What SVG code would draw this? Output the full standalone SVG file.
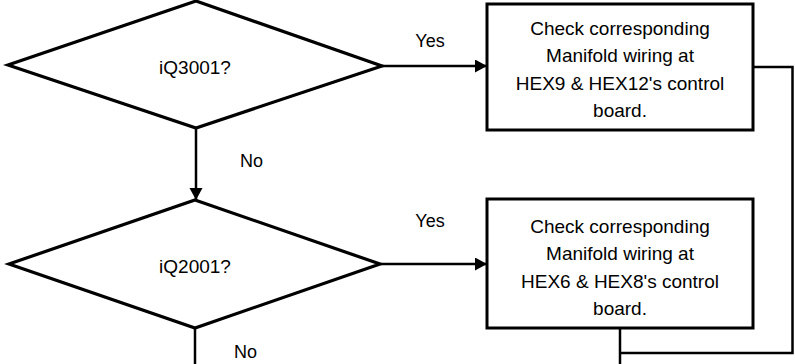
<svg xmlns="http://www.w3.org/2000/svg" width="795" height="364" viewBox="0 0 795 364">
<style>
.shape{fill:#fff;stroke:#000;stroke-width:3.2;stroke-linejoin:miter}
.box{fill:#fff;stroke:#000;stroke-width:3}
.conn{fill:none;stroke:#000;stroke-width:2.5}
text{font-family:"Liberation Sans",Arial,sans-serif;font-size:19px;fill:#000;text-anchor:middle}
.lbl{font-size:18px}
</style>
<defs>
<marker id="arr" markerUnits="userSpaceOnUse" markerWidth="14" markerHeight="14" refX="12" refY="6.5" orient="auto">
<path d="M0,0 L12,6.5 L0,13 Z" fill="#000"/>
</marker>
</defs>
<g id="connectors">
<line class="conn" x1="196" y1="128" x2="196" y2="200" marker-end="url(#arr)"/>
<line class="conn" x1="382" y1="66" x2="487" y2="66" marker-end="url(#arr)"/>
<line class="conn" x1="380" y1="264" x2="487" y2="264" marker-end="url(#arr)"/>
<line class="conn" x1="195" y1="328" x2="195" y2="364"/>
<polyline class="conn" points="753,67 792.5,67 792.5,353 620,353"/>
<line class="conn" x1="620" y1="328" x2="620" y2="364"/>
<text class="lbl" x="430" y="47">Yes</text>
<text class="lbl" x="251.5" y="167">No</text>
<text class="lbl" x="430" y="227">Yes</text>
<text class="lbl" x="245.5" y="358">No</text>
</g>
<g id="d1">
<polygon class="shape" points="196,1 382,66 196,128 8,65"/>
<text x="195" y="74">iQ3001?</text>
</g>
<g id="d2">
<polygon class="shape" points="195,200 380,264 195,328 9,264"/>
<text x="195" y="273">iQ2001?</text>
</g>
<g id="b1">
<rect class="box" x="487" y="4" width="266" height="126"/>
<text x="620" y="35">Check corresponding</text>
<text x="620" y="62">Manifold wiring at</text>
<text x="620" y="89.5">HEX9 &amp; HEX12's control</text>
<text x="620" y="117">board.</text>
</g>
<g id="b2">
<rect class="box" x="487" y="199" width="266" height="129"/>
<text x="620" y="233">Check corresponding</text>
<text x="620" y="260">Manifold wiring at</text>
<text x="620" y="287.5">HEX6 &amp; HEX8's control</text>
<text x="620" y="315">board.</text>
</g>
</svg>
